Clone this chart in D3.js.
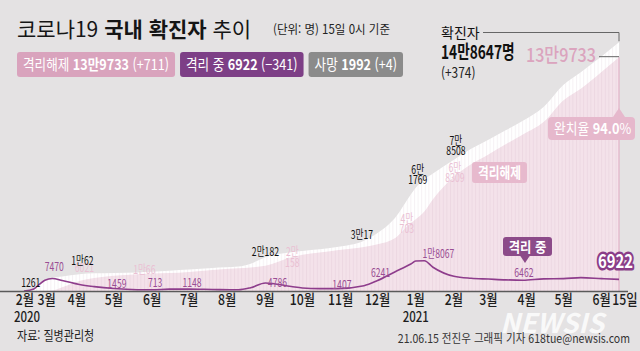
<!DOCTYPE html>
<html lang="ko">
<head>
<meta charset="UTF-8">
<title>코로나19 국내 확진자 추이</title>
<script src="https://d3js.org/d3.v7.min.js"></script>
<style>
  html, body { margin: 0; padding: 0; background: #e4e2e3; }
  svg { display: block; }
  text { font-family: "Noto Sans CJK KR", "Noto Sans", sans-serif; }
</style>
</head>
<body>
<svg id="chart" width="640" height="351"></svg>
<script>
// values (cumulative confirmed / released, currently isolated)
const dates = [
  "2020-02-18", "2020-02-26", "2020-03-01", "2020-03-06", "2020-03-12", "2020-03-20",
  "2020-04-03", "2020-04-15", "2020-05-01", "2020-05-20", "2020-06-01", "2020-06-15",
  "2020-07-01", "2020-07-20", "2020-08-10", "2020-08-20", "2020-09-01", "2020-09-22",
  "2020-10-01", "2020-10-15", "2020-10-29", "2020-11-20", "2020-12-01", "2020-12-15",
  "2020-12-28", "2021-01-01", "2021-01-08", "2021-01-15", "2021-02-01", "2021-02-15",
  "2021-03-01", "2021-03-15", "2021-03-29", "2021-04-15", "2021-05-01", "2021-05-15",
  "2021-06-01", "2021-06-15"
];
const confirmed = [
  31, 1261, 3736, 6593, 7869, 8652,
  10062, 10591, 10774, 11110, 11503, 12121,
  12850, 13816, 14660, 16346, 20182, 23216,
  23889, 24889, 26271, 30017, 34652, 43484,
  57680, 61769, 66686, 70212, 78508, 84946,
  90372, 96017, 101757, 110146, 123240, 130767,
  140340, 148647
];
const released = [
  12, 22, 30, 135, 333, 2233,
  6021, 7757, 9072, 10066, 10518, 10718,
  11420, 12604, 13642, 14063, 15072, 20158,
  21666, 23030, 24401, 26355, 27885, 31493,
  40703, 42953, 47573, 54848, 68309, 75810,
  81635, 87663, 93564, 101108, 114012, 120864,
  131000, 139733
];
const isolated = [
  19, 1227, 3689, 6415, 7470, 6325,
  3867, 2609, 1459, 781, 713, 1126,
  1148, 915, 713, 1975, 4786, 2670,
  1808, 1420, 1407, 3168, 6241, 11404,
  16158, 17899, 18067, 14179, 8779, 7586,
  7131, 6665, 6462, 7256, 7395, 8000,
  7381, 6922
];

// headline figures
const summaryNames = ["격리해제", "격리 중", "사망"];
const summaryValues = [139733, 6922, 1992];
const summaryDeltas = [711, -341, 4];
const confirmedDelta = 374;
const cureRate = 94.0;

// which points get a value label
const confirmedMarks = ["2020-02-26", "2020-04-03", "2020-09-01", "2020-11-20", "2021-01-01", "2021-02-01"];
const releasedMarks = ["2020-04-03", "2020-05-20", "2020-09-22", "2020-12-28", "2021-02-01"];
const isolatedMarks = ["2020-03-12", "2020-05-01", "2020-06-01", "2020-07-01", "2020-09-01",
  "2020-10-29", "2020-12-01", "2021-01-08", "2021-03-29"];

// label placement tweaks [dx, dy, stacked]
const nudge = {
  c: { "2020-02-26": [-3, -2], "2020-04-03": [3, -9], "2020-09-01": [0, -1], "2020-11-20": [-2, -2],
       "2021-01-01": [2, -14, true], "2021-02-01": [2, -15, true] },
  r: { "2020-04-03": [5, -9], "2020-05-20": [7, 0], "2020-09-22": [1, -1, true],
       "2020-12-28": [-4, 0, true], "2021-02-01": [1, -5, true] },
  i: { "2020-03-12": [2, -8], "2020-05-01": [3, -1], "2020-06-01": [3, -3], "2020-07-01": [3, -2],
       "2020-09-01": [12, 4], "2020-10-29": [5, 0], "2020-12-01": [3, -4], "2021-01-08": [14, -3],
       "2021-03-29": [1, -3] }
};

const svg = d3.select("#chart");
const parse = d3.timeParse("%Y-%m-%d");

const x = d3.scaleTime()
  .domain([parse("2020-02-01"), parse("2021-06-15")])
  .range([3, 619]);
const y = d3.scaleLinear().domain([0, 150000]).range([291, 40]);

const rows = dates.map((d, i) => ({ key: d, date: parse(d), c: confirmed[i], r: released[i], iso: isolated[i] }));
const last = rows[rows.length - 1];

const man = v => v >= 10000 ? `${Math.floor(v / 10000)}만${v % 10000}` : `${v}`;
const signed = v => v < 0 ? `(−${-v})` : `(+${v})`;

function txt(parent, px, py, str, o = {}) {
  return parent.append("text")
    .attr("transform", `translate(${px},${py}) scale(${o.sx || 1},1)`)
    .attr("text-anchor", o.anchor || "start")
    .attr("font-size", o.size || 12)
    .attr("font-weight", o.weight || 400)
    .attr("fill", o.fill || "#222")
    .text(str);
}

svg.append("rect").attr("width", 640).attr("height", 351).attr("fill", "#e4e2e3");

// stripe texture like the daily bars of the original
const defs = svg.append("defs");
defs.append("pattern")
  .attr("id", "stripes").attr("width", 3.6).attr("height", 10)
  .attr("patternUnits", "userSpaceOnUse")
  .append("rect").attr("width", 1).attr("height", 10)
  .attr("fill", "rgba(185,150,170,0.13)");

const areaC = d3.area().x(d => x(d.date)).y0(y(0)).y1(d => y(d.c)).curve(d3.curveMonotoneX);
const areaR = d3.area().x(d => x(d.date)).y0(y(0)).y1(d => y(d.r)).curve(d3.curveMonotoneX);
const lineI = d3.line().x(d => x(d.date)).y(d => y(d.iso)).curve(d3.curveMonotoneX);

defs.append("clipPath").attr("id", "clipC").append("path").attr("d", areaC(rows));

svg.append("path").attr("d", areaC(rows)).attr("fill", "#ffffff");
svg.append("path").attr("d", areaR(rows)).attr("fill", "#f4e2ea");
svg.append("rect")
  .attr("x", 0).attr("y", 0).attr("width", 640).attr("height", 300)
  .attr("fill", "url(#stripes)").attr("clip-path", "url(#clipC)");

// right edge marker
svg.append("line")
  .attr("x1", x(last.date)).attr("x2", x(last.date))
  .attr("y1", y(last.r)).attr("y2", y(0))
  .attr("stroke", "#dfa8c1").attr("stroke-width", 1);

svg.append("path").attr("d", lineI(rows))
  .attr("fill", "none").attr("stroke", "#8e3d8c").attr("stroke-width", 1.6);

// axis
svg.append("line").attr("x1", 0).attr("x2", 628).attr("y1", y(0) + 0.5).attr("y2", y(0) + 0.5)
  .attr("stroke", "#5a5a5a").attr("stroke-width", 1.3);

const months = d3.timeMonth.range(parse("2020-02-01"), parse("2021-06-02"));
const shift = { "2020-02": 22, "2020-03": 8 };
const axisG = svg.append("g");
const tickStyle = { size: 15, sx: 0.82, anchor: "middle", weight: 500, fill: "#1d1d1d" };
months.forEach(m => {
  const k = d3.timeFormat("%Y-%m")(m);
  txt(axisG, x(m) + (shift[k] || 0), 305, `${m.getMonth() + 1}월`, tickStyle);
});
txt(axisG, x(last.date) + 6, 305, `${last.date.getDate()}일`, tickStyle);
txt(axisG, x(parse("2020-02-01")) + 24, 322, "2020", { size: 14, sx: 0.82, anchor: "middle", weight: 500, fill: "#1d1d1d" });
txt(axisG, x(parse("2021-01-01")), 322, "2021", { size: 14, sx: 0.82, anchor: "middle", weight: 500, fill: "#1d1d1d" });

// value labels
function marks(list, field, tag, fill) {
  const g = svg.append("g");
  list.forEach(k => {
    const d = rows.find(r => r.key === k);
    const v = d[field];
    const [dx, dy, stacked] = nudge[tag][k];
    const px = x(d.date) + dx, py = y(v) + dy;
    const o = { size: 12, sx: 0.72, anchor: "middle", fill: fill };
    if (stacked) {
      txt(g, px, py, `${Math.floor(v / 10000)}만`, o);
      txt(g, px, py + 10.5, `${v % 10000}`, o);
    } else {
      txt(g, px, py, man(v), o);
    }
  });
}
marks(releasedMarks, "r", "r", "#eac0d3");
marks(confirmedMarks, "c", "c", "#111111");
marks(isolatedMarks, "iso", "i", "#9a4e94");

// title
const title = svg.append("text").attr("x", 17).attr("y", 37).attr("font-size", 21).attr("fill", "#151515");
title.append("tspan").text("코로나19 ");
title.append("tspan").attr("font-weight", 700).text("국내 확진자");
title.append("tspan").text(" 추이");
txt(svg, 273, 34, "(단위: 명) 15일 0시 기준", { size: 12.5, sx: 0.92, fill: "#222" });

// legend chips
const chipColors = ["#d9a3bd", "#7d3f86", "#8b8b8b"];
let cx = 17;
summaryNames.forEach((name, i) => {
  const g = svg.append("g");
  const rect = g.append("rect").attr("y", 52).attr("height", 25).attr("rx", 3).attr("fill", chipColors[i]);
  const sx = 0.84;
  const t = g.append("text")
    .attr("transform", `translate(${cx + 6},70) scale(${sx},1)`)
    .attr("font-size", 15).attr("fill", "#fff");
  t.append("tspan").text(name + " ");
  t.append("tspan").attr("font-weight", 700).text(man(summaryValues[i]));
  t.append("tspan").text(" " + signed(summaryDeltas[i]));
  const w = t.node().getComputedTextLength() * sx + 12;
  rect.attr("x", cx).attr("width", w);
  cx += w + 5;
});

// top-right: total confirmed
const xe = x(last.date);
txt(svg, 441, 38, "확진자", { size: 14, fill: "#111" });
svg.append("path").attr("d", `M483,32.5H${xe}V${y(last.c) - 1}`)
  .attr("fill", "none").attr("stroke", "#666").attr("stroke-width", 1);
txt(svg, 441, 59, man(last.c) + "명", { size: 19, sx: 0.72, weight: 700, fill: "#111" });
txt(svg, 441, 78, signed(confirmedDelta), { size: 14, sx: 0.85, fill: "#222" });

txt(svg, 596, 62, man(last.r), { size: 19, sx: 0.85, anchor: "end", weight: 500, fill: "#dba4be" });
svg.append("path").attr("d", `M599,${y(last.r) - 0.5}H${xe}`)
  .attr("stroke", "#666").attr("stroke-width", 1);

// cure-rate callout
const cg = svg.append("g");
cg.append("rect").attr("x", 548).attr("y", 117).attr("width", 87).attr("height", 23).attr("rx", 4).attr("fill", "#e6b8cc");
cg.append("path").attr("d", `M${xe - 6},117L${xe},108L${xe + 6},117Z`).attr("fill", "#e6b8cc");
const ct = cg.append("text").attr("transform", "translate(554,134) scale(0.85,1)")
  .attr("font-size", 15).attr("fill", "#fff");
ct.append("tspan").text("완치율 ");
ct.append("tspan").attr("font-weight", 700).text(cureRate.toFixed(1));
ct.append("tspan").text("%");

// series tags
svg.append("rect").attr("x", 472).attr("y", 162).attr("width", 55).attr("height", 21).attr("rx", 3).attr("fill", "#e7b9cd");
txt(svg, 499.5, 178, "격리해제", { size: 15, sx: 0.78, anchor: "middle", weight: 700, fill: "#fff" });

svg.append("rect").attr("x", 503).attr("y", 237).attr("width", 49).attr("height", 19).attr("rx", 3).attr("fill", "#8c4b89");
svg.append("path").attr("d", "M520,255.5L525,263L530,255.5Z").attr("fill", "#8c4b89");
txt(svg, 527.5, 251.5, "격리 중", { size: 14, sx: 0.88, anchor: "middle", weight: 700, fill: "#fff" });

txt(svg, 615.5, 268, man(last.iso), { size: 19, sx: 0.78, anchor: "middle", weight: 700, fill: "#fff" })
  .attr("stroke", "#8a3d88").attr("stroke-width", 5).attr("stroke-linejoin", "round")
  .attr("paint-order", "stroke");

// watermark + credits
txt(svg, 552, 333, "NEWSIS", { size: 27, sx: 1.0, anchor: "middle", weight: 700, fill: "#ffffff" })
  .attr("font-family", "DejaVu Sans").attr("font-style", "italic").attr("opacity", 0.8);
txt(svg, 17, 340, "자료: 질병관리청", { size: 13, sx: 0.85, fill: "#222" });
txt(svg, 630, 343, "21.06.15 전진우 그래픽 기자 618tue@newsis.com", { size: 12, sx: 0.88, anchor: "end", fill: "#333" });
</script>
</body>
</html>
